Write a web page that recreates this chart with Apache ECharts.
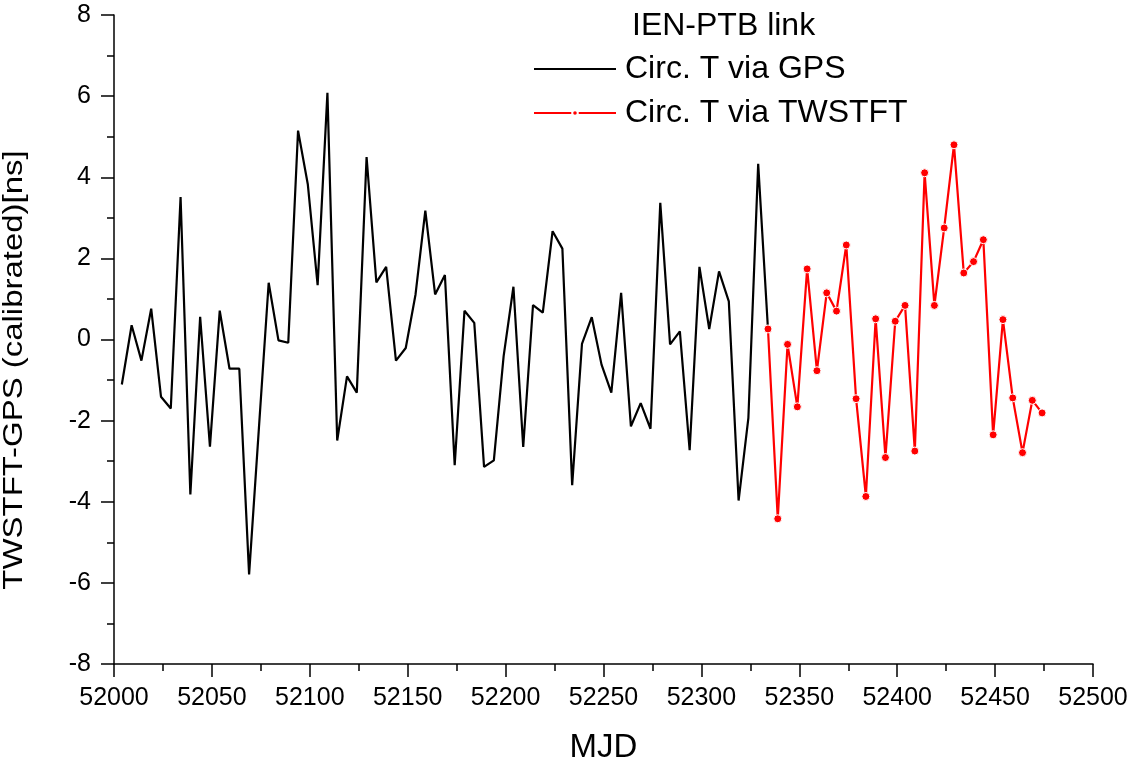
<!DOCTYPE html>
<html>
<head>
<meta charset="utf-8">
<script src="https://cdn.jsdelivr.net/npm/echarts@6/dist/echarts.min.js"></script>
<style>
html,body{margin:0;padding:0;background:#fff;}
#chart{width:1136px;height:769px;}
</style>
</head>
<body>
<div id="chart"></div>
<script>
// ---- data ----
const chartTitle = 'IEN-PTB link';
const seriesNames = ['Circ. T via GPS', 'Circ. T via TWSTFT'];
const xAxisName = 'MJD';
const yAxisName = 'TWSTFT-GPS (calibrated)[ns]';

const gpsMjd = [52004,52009,52014,52019,52024,52029,52034,52039,52044,52049,
  52054,52059,52064,52069,52074,52079,52084,52089,52094,52099,
  52104,52109,52114,52119,52124,52129,52134,52139,52144,52149,
  52154,52159,52164,52169,52174,52179,52184,52189,52194,52199,
  52204,52209,52214,52219,52224,52229,52234,52239,52244,52249,
  52254,52259,52264,52269,52274,52279,52284,52289,52294,52299,
  52304,52309,52314,52319,52324,52329,52334];
const gpsValues = [-1.11,0.35,-0.52,0.76,-1.41,-1.70,3.51,-3.82,0.56,-2.64,
  0.71,-0.72,-0.72,-5.79,-2.19,1.40,-0.02,-0.08,5.15,3.82,
  1.34,6.08,-2.49,-0.91,-1.31,4.50,1.41,1.79,-0.52,-0.21,
  1.11,3.18,1.11,1.59,-3.10,0.71,0.41,-3.14,-2.98,-0.41,
  1.30,-2.65,0.85,0.66,2.67,2.24,-3.59,-0.11,0.55,-0.62,
  -1.31,1.15,-2.14,-1.57,-2.20,3.37,-0.12,0.20,-2.73,1.79,
  0.26,1.68,0.94,-3.97,-1.93,4.33,0.26];

const twMjd = [52334,52339,52344,52349,52354,52359,52364,52369,52374,52379,
  52384,52389,52394,52399,52404,52409,52414,52419,52424,52429,
  52434,52439,52444,52449,52454,52459,52464,52469,52474];
const twValues = [0.26,-4.42,-0.12,-1.66,1.74,-0.77,1.15,0.70,2.33,-1.46,
  -3.87,0.51,-2.91,0.45,0.84,-2.75,4.11,0.84,2.75,4.80,
  1.64,1.92,2.46,-2.35,0.49,-1.44,-2.79,-1.50,-1.81];

const xMin = 52000, xMax = 52500, xStep = 50;
const yMin = -8, yMax = 8, yStep = 2;

// ---- chart ----
const FONT = '"Liberation Sans", Arial, sans-serif';
const chart = echarts.init(document.getElementById('chart'), null, {renderer: 'canvas'});

const pair = (xs, ys) => xs.map((x, i) => [x, ys[i]]);

const option = {
  animation: false,
  backgroundColor: '#ffffff',
  title: {
    text: chartTitle,
    left: 632,
    top: 10,
    padding: 0,
    textStyle: {fontFamily: FONT, fontSize: 32, fontWeight: 'normal', color: '#000', lineHeight: 32}
  },
  legend: {
    orient: 'vertical',
    left: 533,
    top: 53,
    padding: 0,
    itemWidth: 82,
    itemHeight: 7,
    itemGap: 12,
    data: [
      {name: seriesNames[0], itemStyle: {opacity: 0}},
      {name: seriesNames[1]}
    ],
    textStyle: {fontFamily: FONT, fontSize: 32, color: '#000', lineHeight: 32, padding: [0, 0, 0, 4]}
  },
  grid: {left: 114, right: 43, top: 15, bottom: 104},
  xAxis: {
    type: 'value',
    min: xMin, max: xMax, interval: xStep,
    name: xAxisName,
    nameLocation: 'middle',
    nameGap: 67,
    nameTextStyle: {fontFamily: FONT, fontSize: 33, color: '#000'},
    axisLine: {show: true, onZero: false, lineStyle: {color: '#000', width: 1.5}},
    axisTick: {show: true, inside: false, length: 13, lineStyle: {color: '#000', width: 1.5}},
    minorTick: {show: true, splitNumber: 2, length: 7, lineStyle: {color: '#000', width: 1.5}},
    axisLabel: {fontFamily: FONT, fontSize: 25, color: '#000', margin: 22, formatter: v => String(v)},
    splitLine: {show: false}
  },
  yAxis: {
    type: 'value',
    min: yMin, max: yMax, interval: yStep,
    axisLine: {show: true, onZero: false, lineStyle: {color: '#000', width: 1.5}},
    axisTick: {show: true, inside: false, length: 13, lineStyle: {color: '#000', width: 1.5}},
    minorTick: {show: true, splitNumber: 2, length: 7, lineStyle: {color: '#000', width: 1.5}},
    axisLabel: {fontFamily: FONT, fontSize: 25, color: '#000', margin: 23},
    splitLine: {show: false}
  },
  graphic: [{
    type: 'text',
    x: 15,
    y: 370,
    rotation: Math.PI / 2,
    scaleX: 1.22,
    scaleY: 1,
    style: {
      text: yAxisName,
      font: '27px ' + FONT,
      fill: '#000',
      align: 'center',
      verticalAlign: 'middle',
      textAlign: 'center',
      textVerticalAlign: 'middle'
    }
  }],
  series: [
    {
      name: seriesNames[0],
      type: 'line',
      data: pair(gpsMjd, gpsValues),
      symbol: 'none',
      showSymbol: false,
      lineStyle: {color: '#000', width: 2.2},
      itemStyle: {color: '#000'},
      z: 2
    },
    {
      name: seriesNames[1],
      type: 'line',
      data: pair(twMjd, twValues),
      symbol: 'circle',
      symbolSize: 8,
      lineStyle: {color: '#ff0000', width: 2.2},
      itemStyle: {color: '#ff0000', borderColor: '#fff', borderWidth: 1},
      z: 3
    }
  ]
};
chart.setOption(option);
</script>
</body>
</html>
